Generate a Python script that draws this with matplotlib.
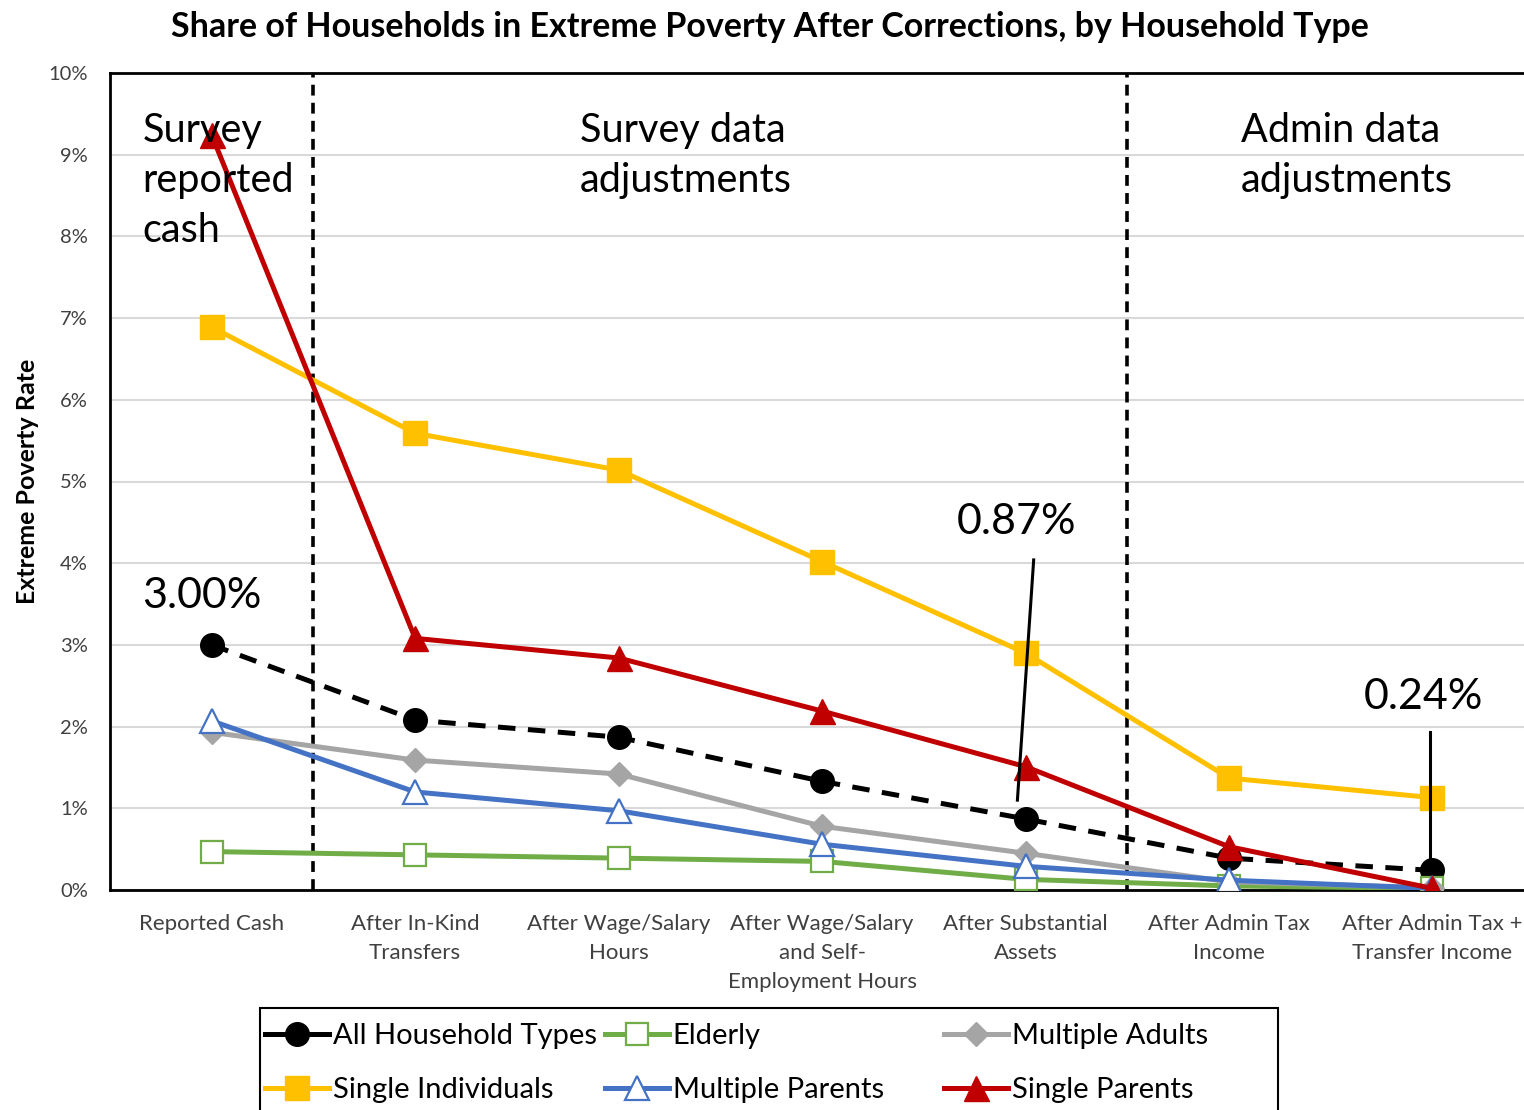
import matplotlib
matplotlib.use('Agg')
import matplotlib.pyplot as plt
from matplotlib.lines import Line2D
from matplotlib.patches import Rectangle

plt.rcParams['font.family'] = ['Lato', 'DejaVu Sans']

# stages of correction
stages = ['Reported Cash', 'After In-Kind\nTransfers', 'After Wage/Salary\nHours',
          'After Wage/Salary\nand Self-\nEmployment Hours', 'After Substantial\nAssets',
          'After Admin Tax\nIncome', 'After Admin Tax +\nTransfer Income']

# extreme poverty rate (%) per household type
all_types = [3.00, 2.08, 1.87, 1.33, 0.87, 0.39, 0.24]
elderly = [0.47, 0.43, 0.39, 0.35, 0.13, 0.05, 0.02]
multiple_adults = [1.93, 1.59, 1.42, 0.78, 0.45, 0.10, 0.03]
single_individuals = [6.89, 5.59, 5.14, 4.02, 2.90, 1.37, 1.13]
multiple_parents = [2.07, 1.20, 0.97, 0.56, 0.29, 0.12, 0.02]
single_parents = [9.24, 3.08, 2.84, 2.19, 1.51, 0.53, 0.02]

x = list(range(len(stages)))

W, H = 1524, 1110
fig = plt.figure(figsize=(W / 100, H / 100), dpi=100)
ax = fig.add_axes([110 / W, 1 - 890 / H, 1 - 110 / W, (890 - 73) / H])

lw = 3.6
series = [
    ('All Household Types', all_types, dict(color='black', marker='o', ms=17)),
    ('Elderly', elderly, dict(color='#70AD47', marker='s', ms=16, mfc='white', mew=1.6)),
    ('Multiple Adults', multiple_adults, dict(color='#A5A5A5', marker='D', ms=12)),
    ('Single Individuals', single_individuals, dict(color='#FFC000', marker='s', ms=17)),
    ('Multiple Parents', multiple_parents, dict(color='#4472C4', marker='^', ms=17, mfc='white', mew=1.6)),
    ('Single Parents', single_parents, dict(color='#C00000', marker='^', ms=18)),
]

handles = {}
for name, vals, style in series:
    ls = (0, (3.5, 2.5)) if name == 'All Household Types' else '-'
    ax.plot(x, vals, lw=lw, ls=ls, zorder=3, **style)
    handles[name] = Line2D([], [], lw=lw, **style)

ax.set_xlim(-0.5, 6.45)
ax.set_ylim(0, 10)
ax.set_yticks(range(0, 11))
ax.set_yticklabels(['%d%%' % v for v in range(0, 11)], fontsize=14.5, color='#404040')
ax.set_xticks(x)
ax.set_xticklabels(stages, fontsize=16, color='#404040', linespacing=1.56)
ax.tick_params(length=0)
ax.tick_params(axis='x', pad=17)
ax.tick_params(axis='y', pad=16)
ax.yaxis.grid(True, color='#D9D9D9', lw=1.5)
ax.set_axisbelow(True)
for s in ['left', 'bottom', 'top']:
    ax.spines[s].set_linewidth(2)
    ax.spines[s].set_color('black')
ax.spines['right'].set_visible(False)

ax.set_ylabel('Extreme Poverty Rate', fontsize=18, fontweight='bold', labelpad=7)

# section dividers
for xv in [0.5, 4.5]:
    ax.axvline(xv, color='black', lw=2.6, ls=(0, (3, 2)), zorder=2)

sec_kw = dict(fontsize=28.5, va='top', ha='left', linespacing=1.43)
ax.text(-0.34, 9.52, 'Survey\nreported\ncash', **sec_kw)
ax.text(1.81, 9.52, 'Survey data\nadjustments', **sec_kw)
ax.text(5.06, 9.52, 'Admin data\nadjustments', **sec_kw)

# callouts
ax.text(-0.34, 3.6, '3.00%', fontsize=31, va='center', ha='left')
ax.text(3.66, 4.5, '0.87%', fontsize=31, va='center', ha='left')
ax.text(5.66, 2.36, '0.24%', fontsize=31, va='center', ha='left')
ax.plot([4.04, 3.96], [4.04, 1.10], color='black', lw=2.2, zorder=4)
ax.plot([5.99, 5.99], [1.93, 0.31], color='black', lw=2.2, zorder=4)

fig.suptitle('Share of Households in Extreme Poverty After Corrections, by Household Type',
             x=0.505, y=0.99, va='top', fontsize=24.5, fontweight='bold')

# legend laid out like the source: 3 columns x 2 rows inside a box cut off by the figure edge
fig.patches.append(Rectangle((260 / W, -0.05), (1278 - 260) / W, 0.05 + (1110 - 1008) / H,
                             transform=fig.transFigure, fill=False, edgecolor='black', lw=1.5))
leg_rows = [['All Household Types', 'Elderly', 'Multiple Adults'],
            ['Single Individuals', 'Multiple Parents', 'Single Parents']]
col_x = [265, 605, 944]
row_y = [1036, 1090]
for r, names in enumerate(leg_rows):
    for c, name in enumerate(names):
        fig.legend([handles[name]], [name], loc='center left',
                   bbox_to_anchor=(col_x[c] / W, 1 - row_y[r] / H), borderaxespad=0,
                   borderpad=0, frameon=False, fontsize=21, handlelength=2.2,
                   handletextpad=0.12)

fig.savefig('out.png', dpi=100)
